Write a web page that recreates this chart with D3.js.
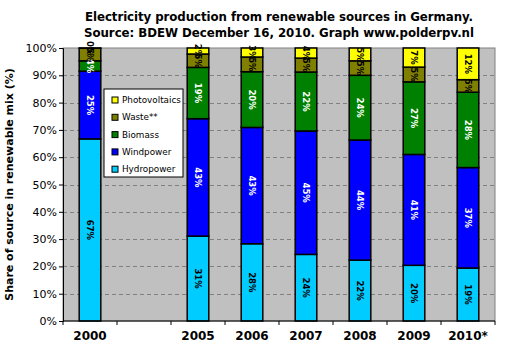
<!DOCTYPE html>
<html>
<head>
<meta charset="utf-8">
<script src="https://cdn.jsdelivr.net/npm/d3@7"></script>
<style>
  html, body { margin: 0; padding: 0; background: #fff; }
  svg { display: block; font-family: "DejaVu Sans", Verdana, sans-serif; }
</style>
</head>
<body>
<div id="chart"></div>
<script>
// categories (the blank one is the gap between 2000 and 2005)
const categories = ['2000', '', '2005', '2006', '2007', '2008', '2009', '2010*'];
const years = ['2000', '2005', '2006', '2007', '2008', '2009', '2010*'];

// shares in % per year
const hydropower    = [66.7, 31.1, 28.3, 24.4, 22.3, 20.4, 19.4];
const windpower     = [24.8, 43.0, 42.6, 45.2, 44.0, 40.6, 36.8];
const biomass       = [3.8, 18.8, 20.4, 21.6, 23.7, 26.6, 27.6];
const waste         = [4.6, 4.9, 5.4, 5.1, 5.3, 5.4, 4.6];
const photovoltaics = [0.1, 2.2, 3.3, 3.7, 4.7, 7.0, 11.6];

const seriesNames = ['Hydropower', 'Windpower', 'Biomass', 'Waste**', 'Photovoltaics'];
const seriesColors = ['#00CCFF', '#0000FF', '#008000', '#808000', '#FFFF00'];
const labelColors = ['#000', '#fff', '#fff', '#000', '#000'];
const yTicks = [0, 10, 20, 30, 40, 50, 60, 70, 80, 90, 100];

const width = 512, height = 351;
const margin = { top: 48, right: 17, bottom: 30, left: 63 };

const table = years.map((y, i) => ({
  year: y,
  Hydropower: hydropower[i],
  Windpower: windpower[i],
  Biomass: biomass[i],
  'Waste**': waste[i],
  Photovoltaics: photovoltaics[i]
}));
const stacked = d3.stack().keys(seriesNames)(table);

const svg = d3.select('#chart').append('svg').attr('width', width).attr('height', height);

const x = d3.scaleBand().domain(categories)
  .range([margin.left, width - margin.right])
  .paddingInner(0.6).paddingOuter(0.3);
const y = d3.scaleLinear().domain([0, 100]).range([height - margin.bottom, margin.top]);

// plot background
svg.append('rect')
  .attr('x', margin.left).attr('y', margin.top)
  .attr('width', width - margin.right - margin.left)
  .attr('height', y(0) - y(100))
  .attr('fill', '#C0C0C0').attr('stroke', '#808080');

// gridlines
svg.append('g').selectAll('line').data(yTicks.slice(1, -1)).join('line')
  .attr('x1', margin.left).attr('x2', width - margin.right)
  .attr('y1', d => Math.round(y(d)) + 0.5).attr('y2', d => Math.round(y(d)) + 0.5)
  .attr('stroke', '#808080').attr('stroke-dasharray', '4,3');

// bars
const layers = svg.append('g').selectAll('g').data(stacked).join('g')
  .attr('fill', (d, i) => seriesColors[i]);
layers.selectAll('rect').data(d => d).join('rect')
  .attr('x', d => x(d.data.year))
  .attr('width', x.bandwidth())
  .attr('y', d => y(d[1]))
  .attr('height', d => y(d[0]) - y(d[1]))
  .attr('stroke', '#000').attr('stroke-width', 1.5);

// value labels, rotated
stacked.forEach((layer, i) => {
  svg.append('g').selectAll('text').data(layer).join('text')
    .attr('transform', d => `translate(${x(d.data.year) + x.bandwidth() / 2},${y((d[0] + d[1]) / 2)}) rotate(90)`)
    .attr('text-anchor', 'middle').attr('dy', '0.35em')
    .attr('font-size', 8.5).attr('font-weight', 'bold')
    .attr('fill', labelColors[i])
    .text(d => Math.round(d[1] - d[0]) + '%');
});

// y axis
const yAxis = svg.append('g').attr('transform', `translate(${margin.left},0)`)
  .call(d3.axisLeft(y).tickValues(yTicks).tickFormat(d => d + '%').tickSize(4).tickPadding(2));
yAxis.select('.domain').attr('stroke', '#000');
yAxis.selectAll('text').attr('font-size', 11).attr('font-family', '"DejaVu Sans", Verdana, sans-serif').attr('fill', '#000');

// x axis: ticks between categories
const xg = svg.append('g').attr('transform', `translate(0,${y(0)})`);
xg.append('line').attr('x1', margin.left).attr('x2', width - margin.right).attr('stroke', '#000');
const bounds = categories.map((c, i) => margin.left + i * x.step()).concat([width - margin.right]);
xg.selectAll('line.tick').data(bounds).join('line').attr('class', 'tick')
  .attr('x1', d => d).attr('x2', d => d).attr('y1', 0).attr('y2', 4).attr('stroke', '#000');
xg.selectAll('text').data(categories).join('text')
  .attr('x', d => x(d) + x.bandwidth() / 2).attr('y', 19)
  .attr('text-anchor', 'middle').attr('font-size', 12).attr('font-weight', 'bold')
  .text(d => d);

// y axis title
svg.append('text')
  .attr('transform', `translate(13,${(y(0) + y(100)) / 2}) rotate(-90)`)
  .attr('text-anchor', 'middle').attr('font-size', 11).attr('font-weight', 'bold')
  .text('Share of source in renewable mix (%)');

// title
const title = svg.append('text').attr('text-anchor', 'middle').attr('font-size', 11.8).attr('font-weight', 'bold');
title.append('tspan').attr('x', 279).attr('y', 21).attr('textLength', 388).text('Electricity production from renewable sources in Germany.');
title.append('tspan').attr('x', 279).attr('y', 37).attr('textLength', 390).text('Source: BDEW December 16, 2010. Graph www.polderpv.nl');

// legend
const legend = svg.append('g').attr('transform', 'translate(104,89)');
legend.append('rect').attr('width', 79).attr('height', 88).attr('fill', '#fff').attr('stroke', '#000');
seriesNames.slice().reverse().forEach((name, i) => {
  const idx = seriesNames.length - 1 - i;
  const row = legend.append('g').attr('transform', `translate(8,${8 + i * 17.3})`);
  row.append('rect').attr('width', 6).attr('height', 6).attr('fill', seriesColors[idx]).attr('stroke', '#000');
  row.append('text').attr('x', 10).attr('y', 3).attr('dy', '0.35em').attr('font-size', 8.8).text(name);
});
</script>
</body>
</html>
